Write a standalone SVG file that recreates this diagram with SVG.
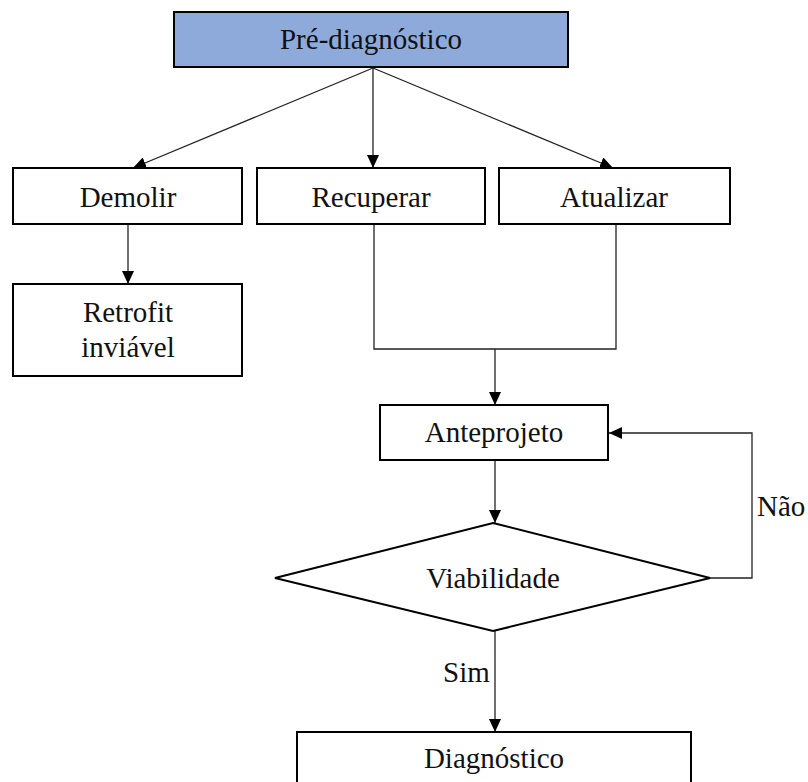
<svg xmlns="http://www.w3.org/2000/svg" width="808" height="782" viewBox="0 0 808 782">
<style>
.box{fill:#fff;stroke:#000;stroke-width:2}
.top{fill:#8EAADB;stroke:#000;stroke-width:2}
.t{font-family:"Liberation Serif","Times New Roman",serif;font-size:29px;fill:#111;text-anchor:middle}
.lbl{font-family:"Liberation Serif","Times New Roman",serif;font-size:29px;fill:#111}
.c{fill:none;stroke:#222;stroke-width:1.3}
</style>
<defs>
<marker id="ah" markerUnits="userSpaceOnUse" markerWidth="13" markerHeight="12" refX="13" refY="6" orient="auto">
<path d="M0,0 L13,6 L0,12 z" fill="#000"/>
</marker>
</defs>
<rect width="808" height="782" fill="#fff"/>
<g id="connectors">
<line class="c" x1="373" y1="68" x2="133" y2="168" marker-end="url(#ah)"/>
<line class="c" x1="373" y1="68" x2="373" y2="168" marker-end="url(#ah)"/>
<line class="c" x1="373" y1="68" x2="613" y2="168" marker-end="url(#ah)"/>
<line class="c" x1="128" y1="224" x2="128" y2="284" marker-end="url(#ah)"/>
<polyline class="c" points="374,224 374,349 616,349 616,224"/>
<line class="c" x1="495" y1="349" x2="495" y2="405" marker-end="url(#ah)"/>
<line class="c" x1="495" y1="460" x2="495" y2="523" marker-end="url(#ah)"/>
<polyline class="c" points="710,578 752,578 752,433 609,433" marker-end="url(#ah)"/>
<line class="c" x1="495" y1="631" x2="495" y2="732" marker-end="url(#ah)"/>
<text class="lbl" x="757" y="516">Não</text>
<text class="lbl" x="443" y="682">Sim</text>
</g>
<g id="pre">
<rect class="top" x="174" y="12" width="394" height="55"/>
<text class="t" x="371" y="49">Pré-diagnóstico</text>
</g>
<g id="demolir">
<rect class="box" x="13" y="168" width="229" height="56"/>
<text class="t" x="128" y="207">Demolir</text>
</g>
<g id="recuperar">
<rect class="box" x="257" y="168" width="228" height="56"/>
<text class="t" x="371" y="207">Recuperar</text>
</g>
<g id="atualizar">
<rect class="box" x="499" y="168" width="231" height="56"/>
<text class="t" x="614" y="207">Atualizar</text>
</g>
<g id="retrofit">
<rect class="box" x="13" y="284" width="229" height="92"/>
<text class="t" x="128" y="322">Retrofit</text>
<text class="t" x="128" y="357">inviável</text>
</g>
<g id="anteprojeto">
<rect class="box" x="380" y="405" width="228" height="55"/>
<text class="t" x="494" y="442">Anteprojeto</text>
</g>
<g id="viabilidade">
<polygon class="box" points="493,523 710,578 493,631 275,578"/>
<text class="t" x="493" y="588">Viabilidade</text>
</g>
<g id="diagnostico">
<rect class="box" x="297" y="732" width="394" height="70"/>
<text class="t" x="494" y="768">Diagnóstico</text>
</g>
</svg>
